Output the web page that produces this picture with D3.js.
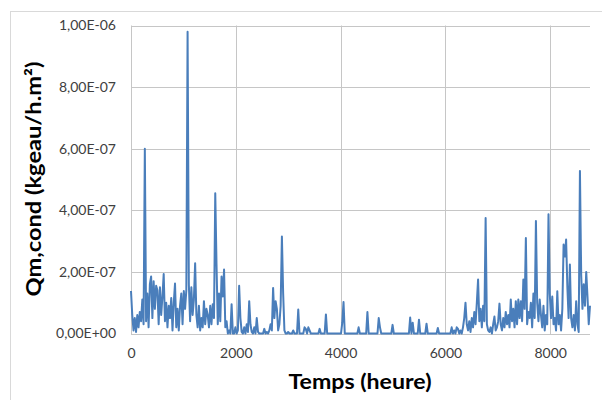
<!DOCTYPE html>
<html>
<head>
<meta charset="utf-8">
<script src="https://cdnjs.cloudflare.com/ajax/libs/d3/7.8.5/d3.min.js"></script>
<style>
  body { margin: 0; background: #fff; }
  svg text { font-family: Lato, "Open Sans", sans-serif; }
</style>
</head>
<body>
<div id="chart"></div>
<script>
// Qm,cond, one value per day (every 24 h), in units of 1E-07
var stepHours = 24;
var qmE7 = [
  1.38, 0.6, 0.1, 0.5, 0.05, 0.6, 0.2, 0.7, 0.4, 1.1,      // d0
  0.3, 6.0, 0.4, 1.3, 0.2, 1.6, 1.85, 0.5, 1.7, 0.8,       // d10
  1.55, 1.4, 0.3, 1.5, 0.6, 1.2, 1.93, 0.4, 1.0, 0.2,      // d20
  0.9, 0.5, 1.15, 0.1, 1.0, 1.62, 0.2, 0.8, 0.1, 0.9,      // d30
  1.3, 0.3, 1.38, 0.8, 1.4, 9.8, 1.6, 0.4, 1.5, 0.6,       // d40
  1.1, 2.28, 0.6, 0.2, 0.9, 0.1, 0.5, 0.2, 1.05, 0.3,      // d50
  0.8, 0.6, 0.2, 0.9, 0.3, 0.95, 0.5, 4.55, 2.25, 0.3,     // d60
  1.3, 0.4, 1.85, 1.2, 2.08, 0.2, 0.4, 0, 0.1, 0,          // d70
  0.95, 0, 0, 0.2, 0, 0.1, 1.55, 0.5, 0.05, 0,             // d80
  0.2, 0, 0.3, 0.05, 1.05, 0.3, 0.05, 0, 0.2, 0,           // d90
  0.5, 0.05, 0, 0, 0, 0, 0.15, 0, 0.05, 0,                 // d100
  0.1, 0.3, 0.1, 1.48, 0.5, 1.05, 0.8, 0.1, 0.3, 0.9,      // d110
  3.15, 1.3, 0.1, 0, 0, 0.05, 0, 0, 0, 0.1,                // d120
  0, 0, 0, 0.78, 0, 0, 0, 0, 0.2, 0.15,                    // d130
  0, 0.2, 0.1, 0, 0, 0, 0, 0, 0, 0,                        // d140
  0.15, 0, 0, 0, 0, 0.62, 0, 0, 0, 0,                      // d150
  0, 0, 0, 0, 0, 0, 0, 0, 0.35, 1.02,                      // d160
  0, 0, 0, 0, 0, 0, 0, 0, 0, 0,                            // d170
  0, 0.2, 0, 0, 0, 0, 0, 0, 0.7, 0,                        // d180
  0, 0, 0, 0, 0, 0, 0, 0.5, 0.2, 0,                        // d190
  0, 0, 0, 0, 0, 0, 0, 0, 0.28, 0,                         // d200
  0, 0, 0, 0, 0, 0, 0, 0, 0, 0,                            // d210
  0, 0, 0.52, 0, 0.35, 0, 0, 0, 0, 0.45,                   // d220
  0, 0, 0, 0, 0, 0.32, 0, 0, 0, 0,                         // d230
  0, 0, 0, 0, 0.18, 0, 0, 0, 0, 0,                         // d240
  0, 0, 0, 0, 0, 0.2, 0, 0.1, 0, 0.2,                      // d250
  0.15, 0, 0.1, 0, 0.2, 0.5, 1.0, 0.3, 0.1, 0.4,           // d260
  0.05, 0.5, 0.2, 0.7, 0.3, 1.0, 1.75, 0.4, 0.8, 0.2,      // d270
  0.9, 0.4, 3.75, 0.3, 0.1, 0.05, 0.2, 0, 0.3, 0.55,       // d280
  0.1, 0.2, 0.4, 0.97, 0.3, 0.1, 0.5, 0.2, 0.7, 0.3,       // d290
  0.6, 0.2, 1.1, 0.4, 0.8, 0.2, 1.05, 0.3, 1.1, 0.5,       // d300
  1.05, 0.4, 1.75, 0.8, 3.1, 0.3, 0.7, 0.5, 1.0, 0.2,      // d310
  1.3, 0.5, 3.65, 1.0, 0.4, 1.1, 0.6, 0.2, 0.9, 0.1,       // d320
  0.6, 0.3, 3.87, 1.3, 0.5, 1.2, 0.3, 0.5, 0.1, 1.37,      // d330
  0.3, 0.6, 0.1, 0.8, 2.89, 2.5, 3.05, 1.5, 0.5, 2.24,     // d340
  0.5, 0.2, 0.6, 0.1, 1.05, 0.3, 0.05, 5.28, 1.9, 0.8,     // d350
  1.6, 0.9, 2.0, 1.2, 0.3, 0.9                             // d360
];
var yTicks = [0, 2e-7, 4e-7, 6e-7, 8e-7, 1e-6];
var xTicks = [0, 2000, 4000, 6000, 8000];
var xTitle = "Temps (heure)";
var yTitle = "Qm,cond (kgeau/h.m²)";

var width = 602, height = 400;
var svg = d3.select("#chart").append("svg")
  .attr("width", width)
  .attr("height", height);

// chart frame (runs off the right and bottom of the picture)
svg.append("rect")
  .attr("x", 10.5).attr("y", 11.5)
  .attr("width", 640).attr("height", 440)
  .attr("fill", "#fff")
  .attr("stroke", "#d9d9d9");

var x = d3.scaleLinear().domain([0, 8760]).range([131, 590]);
var y = d3.scaleLinear().domain([0, 1e-6]).range([333.5, 25.5]);

// excel style "2,00E-07"
function sci(v) {
  var parts = v.toExponential(2).split("e");
  var e = +parts[1];
  return parts[0].replace(".", ",") + "E" + (e < 0 ? "-" : "+") + String(Math.abs(e)).padStart(2, "0");
}

// gridlines
svg.append("g").selectAll("line").data(yTicks).enter().append("line")
  .attr("x1", 131).attr("x2", 590)
  .attr("y1", function (d) { return Math.round(y(d)) + 0.5; })
  .attr("y2", function (d) { return Math.round(y(d)) + 0.5; })
  .attr("stroke", "#c6c6c6");
svg.append("g").selectAll("line").data(xTicks).enter().append("line")
  .attr("x1", function (d) { return Math.round(x(d)) + 0.5; })
  .attr("x2", function (d) { return Math.round(x(d)) + 0.5; })
  .attr("y1", 25.5).attr("y2", 334)
  .attr("stroke", "#c6c6c6");

// axes (labels only)
var yAxis = svg.append("g")
  .attr("transform", "translate(131,0)")
  .call(d3.axisLeft(y).tickValues(yTicks).tickFormat(sci).tickSize(0).tickPadding(15));
var xAxis = svg.append("g")
  .attr("transform", "translate(0,333.5)")
  .call(d3.axisBottom(x).tickValues(xTicks).tickFormat(d3.format("d")).tickSize(0).tickPadding(15));
[yAxis, xAxis].forEach(function (g) {
  g.select(".domain").remove();
  g.selectAll("text")
    .style("font-family", "Lato, sans-serif")
    .style("font-size", "14px")
    .attr("fill", "#404040");
});

// series
var line = d3.line()
  .x(function (d, i) { return x(i * stepHours); })
  .y(function (d) { return y(d * 1e-7); });
svg.append("path")
  .datum(qmE7)
  .attr("d", line)
  .attr("fill", "none")
  .attr("stroke", "#4a7ebb")
  .attr("stroke-width", 2)
  .attr("stroke-linejoin", "round");

// titles
svg.append("text")
  .attr("x", 360).attr("y", 389)
  .attr("text-anchor", "middle")
  .attr("textLength", 143)
  .attr("lengthAdjust", "spacingAndGlyphs")
  .style("font-size", "21px")
  .style("font-weight", "bold")
  .text(xTitle);
svg.append("text")
  .attr("transform", "translate(41,179) rotate(-90)")
  .attr("text-anchor", "middle")
  .attr("textLength", 235)
  .attr("lengthAdjust", "spacingAndGlyphs")
  .style("font-size", "21px")
  .style("font-weight", "bold")
  .text(yTitle);
</script>
</body>
</html>
